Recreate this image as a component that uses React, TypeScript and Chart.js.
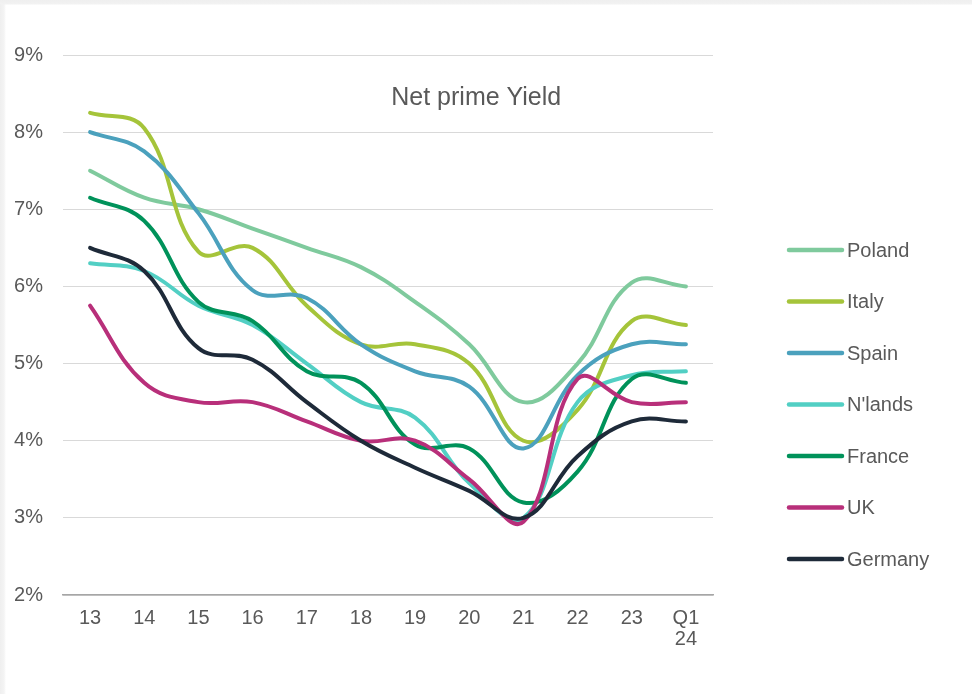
import React, { useEffect, useRef } from "react";
import { Chart, registerables } from "chart.js";

Chart.register(...registerables);

const categories: (string | string[])[] = ["13", "14", "15", "16", "17", "18", "19", "20", "21", "22", "23", ["Q1", "24"]];

const poland = [7.5, 7.15, 7.0, 6.75, 6.5, 6.25, 5.8, 5.25, 4.5, 5.0, 6.05, 6.0];
const italy = [8.25, 8.05, 6.45, 6.5, 5.75, 5.25, 5.25, 5.0, 4.0, 4.4, 5.55, 5.5];
const spain = [8.0, 7.75, 6.95, 5.95, 5.85, 5.25, 4.9, 4.7, 3.9, 4.85, 5.25, 5.25];
const nlands = [6.3, 6.2, 5.75, 5.5, 5.0, 4.5, 4.3, 3.45, 3.0, 4.5, 4.85, 4.9];
const france = [7.15, 6.85, 5.8, 5.55, 4.9, 4.75, 3.95, 3.9, 3.2, 3.6, 4.8, 4.75];
const uk = [5.75, 4.75, 4.5, 4.5, 4.25, 4.0, 4.0, 3.5, 2.95, 4.8, 4.5, 4.5];
const germany = [6.5, 6.2, 5.2, 5.05, 4.5, 4.0, 3.65, 3.35, 3.0, 3.8, 4.25, 4.25];

const seriesNames = ["Poland", "Italy", "Spain", "N'lands", "France", "UK", "Germany"];
const seriesValues = [poland, italy, spain, nlands, france, uk, germany];
const seriesColors = ["#7fca9d", "#a5c43a", "#4ba1bd", "#52cfc4", "#00925a", "#b82f7a", "#1e2a39"];

const yMin = 2;
const yMax = 9;
const yStep = 1;
const chartTitle = "Net prime Yield";

const FONT = "'Liberation Sans', Arial, sans-serif";
const TEXT = "#595959";

const overlayPlugin = {
  id: "overlay",
  afterDraw(chart: any) {
    const { ctx, chartArea } = chart;
    ctx.save();
    // title inside plot
    ctx.font = `25px ${FONT}`;
    ctx.fillStyle = TEXT;
    ctx.textAlign = "left";
    ctx.textBaseline = "alphabetic";
    ctx.fillText(chartTitle, chartArea.left + chartArea.width * 0.505, chartArea.top + 50);
    // legend
    ctx.font = `20px ${FONT}`;
    ctx.textAlign = "left";
    ctx.textBaseline = "middle";
    const lx = chartArea.right + 76;
    seriesNames.forEach((name, i) => {
      const y = chartArea.top + 195 + i * 51.5;
      ctx.strokeStyle = seriesColors[i];
      ctx.lineWidth = 4.5;
      ctx.lineCap = "round";
      ctx.beginPath();
      ctx.moveTo(lx, y);
      ctx.lineTo(lx + 53, y);
      ctx.stroke();
      ctx.fillStyle = TEXT;
      ctx.fillText(name, lx + 58, y + 1);
    });
    ctx.restore();
  },
};

export default function App() {
  const ref = useRef<HTMLCanvasElement | null>(null);

  useEffect(() => {
    document.body.style.margin = "0";
    const canvas = ref.current;
    if (!canvas) return;
    const chart = new Chart(canvas, {
      type: "line",
      data: {
        labels: categories,
        datasets: seriesNames.map((name, i) => ({
          label: name,
          data: seriesValues[i],
          borderColor: seriesColors[i],
          backgroundColor: seriesColors[i],
          borderWidth: 4,
          pointRadius: 0,
          tension: 0.4,
          fill: false,
          order: seriesNames.length - i,
          borderCapStyle: "round" as const,
          borderJoinStyle: "round" as const,
        })),
      },
      options: {
        animation: false,
        responsive: false,
        maintainAspectRatio: false,
        layout: { padding: { left: 14, top: 55, right: 259, bottom: 44 } },
        plugins: {
          legend: { display: false },
          tooltip: { enabled: false },
          title: { display: false },
        },
        scales: {
          x: {
            offset: true,
            grid: { display: false, drawTicks: false },
            border: { display: true, color: "#a6a6a6", width: 1.5 },
            ticks: {
              color: TEXT,
              font: { family: FONT, size: 20, lineHeight: 1.05 },
              padding: 13,
              maxRotation: 0,
              autoSkip: false,
            },
            afterFit: (scale: any) => {
              scale.height = 55;
            },
          },
          y: {
            min: yMin,
            max: yMax,
            grid: { color: "#d9d9d9", lineWidth: 1, drawTicks: false },
            border: { display: false },
            ticks: {
              stepSize: yStep,
              color: TEXT,
              font: { family: FONT, size: 20 },
              padding: 20,
              callback: (v: any) => `${v}%`,
            },
            afterFit: (scale: any) => {
              scale.width = 49;
            },
          },
        },
      },
      plugins: [overlayPlugin],
    });
    return () => chart.destroy();
  }, []);

  return (
    <div
      style={{
        position: "relative",
        width: 972,
        height: 694,
        background:
          "linear-gradient(to bottom, #efefef 0px, #f2f2f2 4px, rgba(255,255,255,0) 5px), linear-gradient(to right, #efefef 0px, #f4f4f4 4px, #ffffff 6px)",
      }}
    >
      <canvas ref={ref} width={972} height={694} style={{ position: "absolute", left: 0, top: 0, width: 972, height: 694 }} />
    </div>
  );
}
